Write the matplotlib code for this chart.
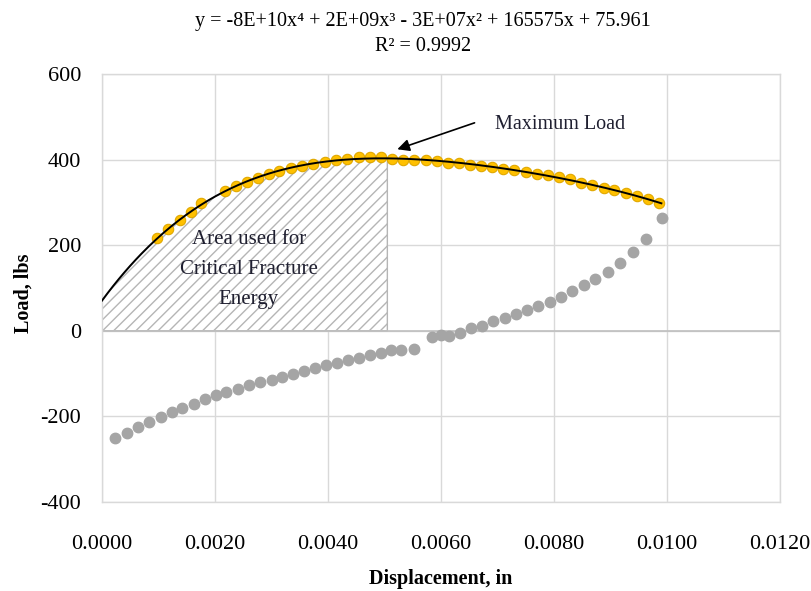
import numpy as np
import matplotlib.pyplot as plt

plt.rcParams['font.family'] = ['Liberation Serif', 'DejaVu Serif']
plt.rcParams['hatch.linewidth'] = 1.0
plt.rcParams['axes.unicode_minus'] = False

# load branch (yellow points), displacement in inches
x_load = [0.00097, 0.00117, 0.00138, 0.00157, 0.00176, 0.00217, 0.00237, 0.00256,
          0.00276, 0.00295, 0.00314, 0.00334, 0.00354, 0.00374, 0.00395, 0.00414,
          0.00434, 0.00454, 0.00474, 0.00494, 0.00513, 0.00533, 0.00553, 0.00573,
          0.00593, 0.00613, 0.00632, 0.00651, 0.00671, 0.00691, 0.00710, 0.00730,
          0.00750, 0.00770, 0.00789, 0.00808, 0.00828, 0.00848, 0.00868, 0.00888,
          0.00907, 0.00927, 0.00947, 0.00966, 0.00985]
y_load = [216, 237, 259, 278, 298, 326, 338, 348,
          357, 367, 374, 380, 386, 390, 395, 399,
          402, 405, 406, 406, 402, 400, 399, 398,
          397, 393, 392, 388, 386, 383, 379, 376,
          372, 367, 363, 359, 354, 346, 340, 334,
          328, 321, 315, 309, 299]

# second series (gray points)
x_gray = [0.00023, 0.00045, 0.00064, 0.00083, 0.00104, 0.00123, 0.00142, 0.00162,
          0.00182, 0.00201, 0.00220, 0.00241, 0.00260, 0.00280, 0.00300, 0.00319,
          0.00338, 0.00357, 0.00377, 0.00397, 0.00416, 0.00436, 0.00455, 0.00474,
          0.00494, 0.00512, 0.00530, 0.00552, 0.00584, 0.00600, 0.00614, 0.00633,
          0.00653, 0.00672, 0.00692, 0.00713, 0.00732, 0.00752, 0.00772, 0.00792,
          0.00812, 0.00832, 0.00853, 0.00873, 0.00895, 0.00917, 0.00940, 0.00963,
          0.00991]
y_gray = [-250, -238, -225, -212, -201, -190, -180, -170,
          -160, -151, -143, -135, -127, -119, -114, -107,
          -100, -94, -88, -81, -75, -69, -63, -57,
          -52, -46, -45, -43, -15, -10, -11, -4,
          6, 12, 22, 30, 39, 49, 57, 68,
          79, 92, 106, 121, 138, 158, 183, 215,
          264]

x_max_load = 0.00505
x_ticks = [0.0, 0.002, 0.004, 0.006, 0.008, 0.010, 0.012]
y_ticks = [-400, -200, 0, 200, 400, 600]

# 4th order trendline through the load branch
coef = np.polyfit(x_load, y_load, 4)
xf = np.linspace(0, 0.0099, 300)
yf = np.polyval(coef, xf)

fig = plt.figure(figsize=(8.11, 5.91), dpi=100)
ax = fig.add_axes([0.1258, 0.1506, 0.836, 0.7242])

xa = np.linspace(0, x_max_load, 200)
ax.fill_between(xa, 0, np.polyval(coef, xa), facecolor='white', hatch='///',
                edgecolor='#b5b5b5', linewidth=1.0, zorder=1)

ax.axhline(0, color='#bfbfbf', lw=1.2, zorder=1.5)
ax.plot(x_gray, y_gray, 'o', color='#a5a5a5', ms=7.5, mec='#a5a5a5', zorder=2)
ax.plot(x_load, y_load, 'o', color='#ffc000', ms=7.5, mec='#e0a800', mew=0.8, zorder=3)
ax.plot(xf, yf, color='black', lw=1.4, zorder=4)

ax.text(0.0026, 144, 'Area used for\nCritical Fracture\nEnergy', ha='center', va='center',
        fontsize=15, linespacing=1.78, color='#1f1f30', zorder=5)
ax.annotate('', xy=(0.00518, 422), xytext=(0.00664, 488),
            arrowprops=dict(arrowstyle='-|>', color='black', lw=1.2,
                            mutation_scale=18), zorder=5)
ax.text(0.00695, 482, 'Maximum Load', ha='left', va='center', fontsize=14.5,
        color='#1f1f30')

ax.set_xlim(0, 0.012)
ax.set_ylim(-400, 600)
ax.set_xticks(x_ticks)
ax.set_xticklabels(['%.4f' % v for v in x_ticks])
ax.set_yticks(y_ticks)
ax.tick_params(length=0, labelsize=16)
ax.tick_params(axis='x', pad=24)
ax.tick_params(axis='y', pad=15)
ax.grid(True, color='#d9d9d9', lw=1.0)
ax.set_axisbelow(True)
for s in ax.spines.values():
    s.set_color('#d9d9d9')
    s.set_linewidth(1.0)

ax.set_xlabel('Displacement, in', fontsize=14.5, fontweight='bold')
ax.set_ylabel('Load, lbs', fontsize=14.5, fontweight='bold')
ax.xaxis.set_label_coords(0.5, -0.157)
ax.yaxis.set_label_coords(-0.1003, 0.488)

fig.text(0.522, 0.964, 'y = -8E+10x\u2074 + 2E+09x\u00b3 - 3E+07x\u00b2 + 165575x + 75.961',
         ha='center', va='center', fontsize=14.5)
fig.text(0.522, 0.922, 'R\u00b2 = 0.9992', ha='center', va='center', fontsize=14.5)

fig.savefig('out.png', dpi=100)
